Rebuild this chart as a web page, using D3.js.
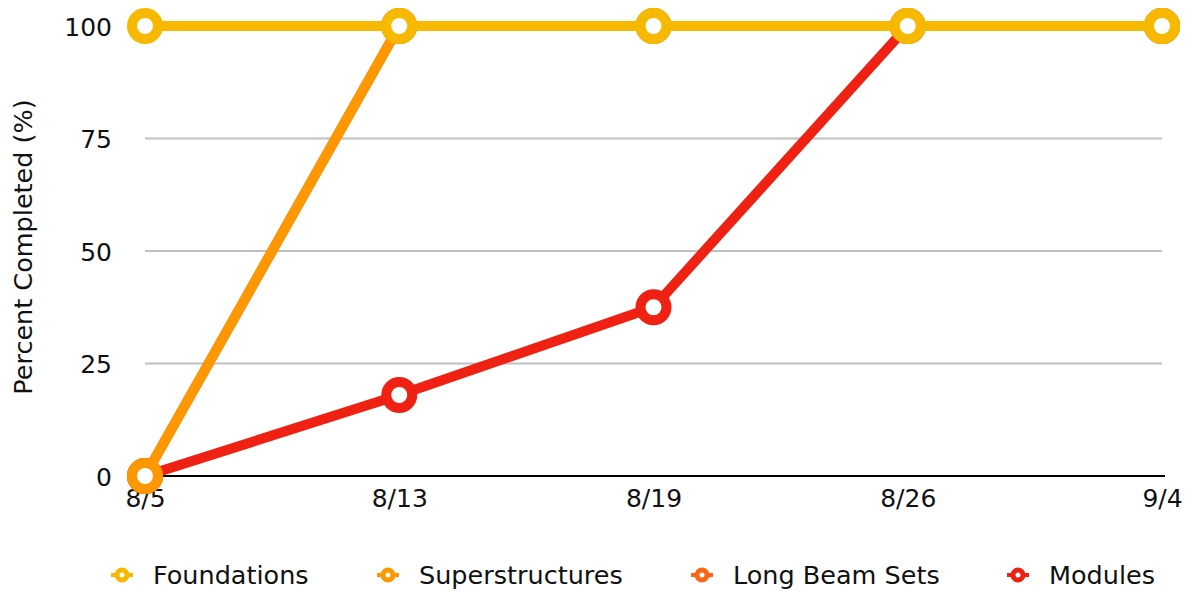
<!DOCTYPE html>
<html>
<head>
<meta charset="utf-8">
<script src="https://cdn.jsdelivr.net/npm/d3@7"></script>
<style>
    body { margin: 0; background: #fff; }
    text { font-family: "DejaVu Sans", sans-serif; fill: #111; }
</style>
</head>
<body>
<svg id="chart" width="1201" height="595"></svg>
<script>
// chart data
const dates = ["8/5", "8/13", "8/19", "8/26", "9/4"];
const yTicks = [0, 25, 50, 75, 100];
const seriesNames = ["Foundations", "Superstructures", "Long Beam Sets", "Modules"];
const seriesColors = ["#f7b900", "#ff9800", "#ff6414", "#ee2112"];
const foundations = [100, 100, 100, 100, 100];
const superstructures = [0, 100, 100, 100, 100];
const longBeamSets = [0, 100, 100, 100, 100];
const modules = [0, 18, 37.5, 100, 100];

const series = [foundations, superstructures, longBeamSets, modules].map((vals, i) => ({
    name: seriesNames[i],
    color: seriesColors[i],
    values: vals
}));

const svg = d3.select("#chart");
const plotLeft = 145, plotRight = 1162, plotTop = 26, plotBottom = 476;

const x = d3.scalePoint().domain(dates).range([plotLeft, plotRight]);
const y = d3.scaleLinear().domain([0, 100]).range([plotBottom, plotTop]);

// grid lines
svg.append("g")
    .selectAll("line")
    .data(yTicks.filter(t => t > 0))
    .enter().append("line")
    .attr("x1", plotLeft).attr("x2", plotRight)
    .attr("y1", d => y(d)).attr("y2", d => y(d))
    .attr("stroke", "#c0c0c0")
    .attr("stroke-width", 2);

// baseline
svg.append("line")
    .attr("x1", plotLeft).attr("x2", plotRight + 3)
    .attr("y1", y(0)).attr("y2", y(0))
    .attr("stroke", "#000")
    .attr("stroke-width", 2);

// y axis
const yAxis = svg.append("g")
    .attr("transform", "translate(" + (plotLeft - 33) + ",0)")
    .call(d3.axisLeft(y).tickValues(yTicks).tickSize(0).tickPadding(0));
yAxis.select(".domain").remove();
yAxis.selectAll("text")
    .style("font-size", "25px")
    .attr("dy", "0.36em");

// x axis
const xAxis = svg.append("g")
    .attr("transform", "translate(0," + (plotBottom + 12) + ")")
    .call(d3.axisBottom(x).tickSize(0).tickPadding(0));
xAxis.select(".domain").remove();
xAxis.selectAll("text")
    .style("font-size", "25px")
    .attr("dy", "0.74em");

svg.append("text")
    .attr("transform", "translate(32,247) rotate(-90)")
    .attr("text-anchor", "middle")
    .style("font-size", "25.5px")
    .text("Percent Completed (%)");

// lines, drawn bottom-up so Foundations sits on top
const line = d3.line()
    .x((d, i) => x(dates[i]))
    .y(d => y(d));

const drawOrder = series.slice().reverse();

const groups = svg.selectAll("g.series")
    .data(drawOrder)
    .enter().append("g")
    .classed("series", true);

groups.append("path")
    .attr("d", d => line(d.values))
    .attr("fill", "none")
    .attr("stroke", d => d.color)
    .attr("stroke-width", 10)
    .attr("stroke-linejoin", "round");

groups.each(function(s) {
    d3.select(this).selectAll("circle")
        .data(s.values)
        .enter().append("circle")
        .attr("cx", (d, i) => x(dates[i]))
        .attr("cy", d => y(d))
        .attr("r", 13)
        .attr("fill", "#fff")
        .attr("stroke", s.color)
        .attr("stroke-width", 10);
});

// legend
const legendX = [122, 388, 702, 1018];
const legend = svg.selectAll("g.legend")
    .data(series)
    .enter().append("g")
    .classed("legend", true)
    .attr("transform", (d, i) => "translate(" + legendX[i] + ",575)");

legend.append("line")
    .attr("x1", -11).attr("x2", 11)
    .attr("stroke", d => d.color)
    .attr("stroke-width", 4);
legend.append("circle")
    .attr("r", 5)
    .attr("fill", "#fff")
    .attr("stroke", d => d.color)
    .attr("stroke-width", 5);
legend.append("text")
    .attr("x", 31)
    .attr("dy", "0.36em")
    .style("font-size", "25.5px")
    .text(d => d.name);
</script>
</body>
</html>
